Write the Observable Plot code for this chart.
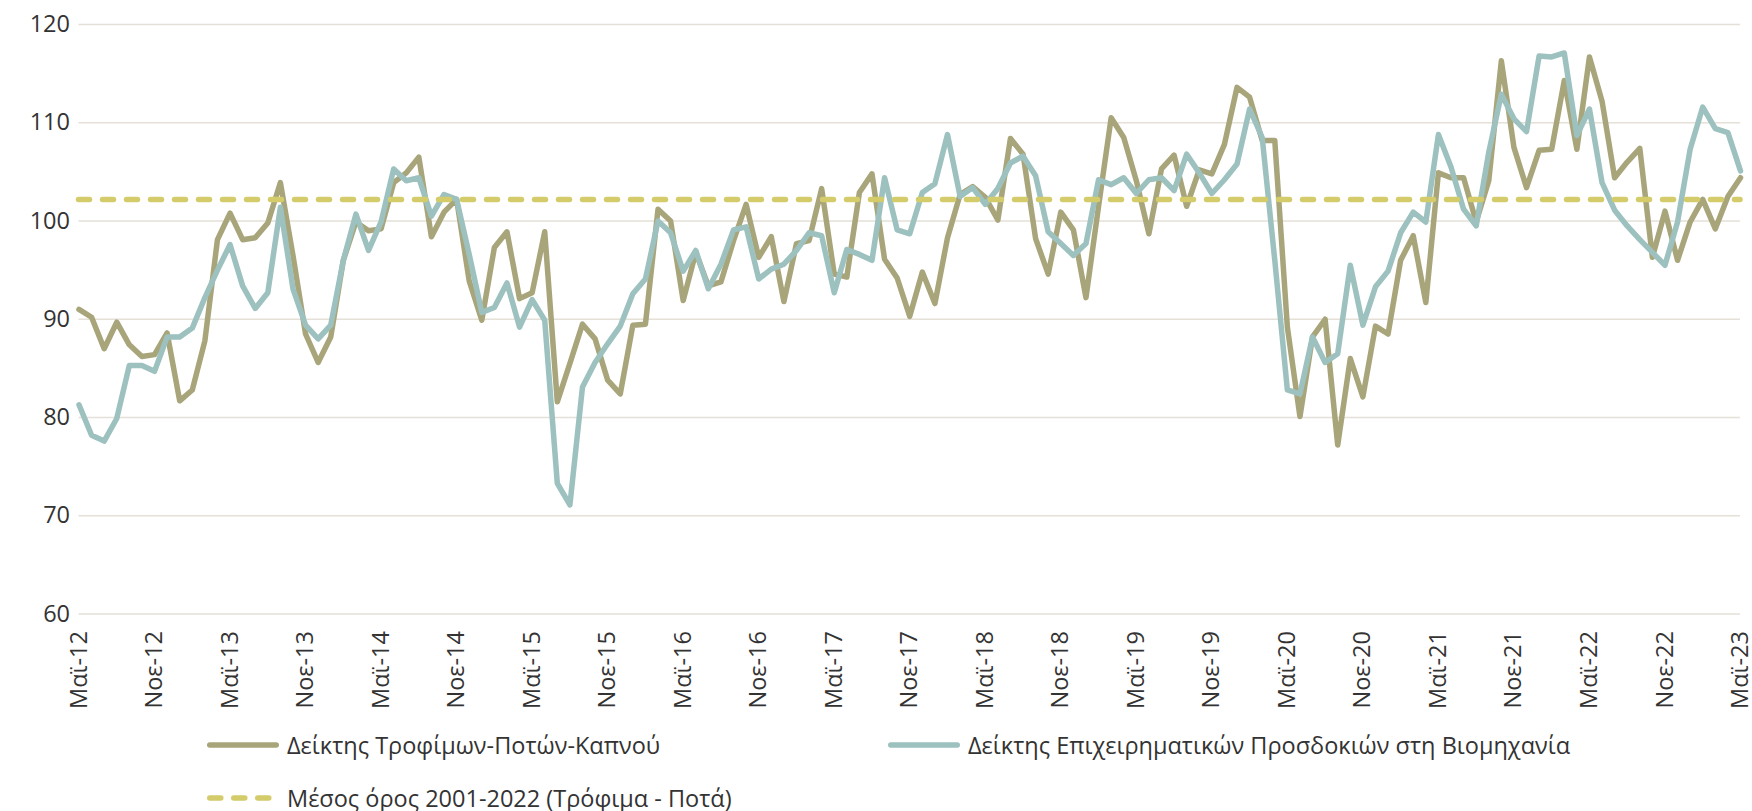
<!DOCTYPE html>
<html><head><meta charset="utf-8">
<script src="https://cdn.jsdelivr.net/npm/d3@7"></script>
<script src="https://cdn.jsdelivr.net/npm/@observablehq/plot@0.6"></script>
<style>
body{margin:0;background:#fff;font-family:"Open Sans",sans-serif;}
#chart{position:relative;width:1752px;height:811px;}
.leg{position:absolute;display:flex;align-items:center;font-size:23.5px;line-height:24px;height:24px;color:#333;white-space:nowrap;}
.leg svg{margin-right:8px;}
</style></head><body><div id="chart"></div>
<script>
// Categories: monthly, May 2012 – May 2023
const monthNames = ["Ιαν","Φεβ","Μαρ","Απρ","Μαϊ","Ιουν","Ιουλ","Αυγ","Σεπ","Οκτ","Νοε","Δεκ"];
const tickLabels = ["Μαϊ-12","Νοε-12","Μαϊ-13","Νοε-13","Μαϊ-14","Νοε-14","Μαϊ-15","Νοε-15","Μαϊ-16","Νοε-16","Μαϊ-17","Νοε-17","Μαϊ-18","Νοε-18","Μαϊ-19","Νοε-19","Μαϊ-20","Νοε-20","Μαϊ-21","Νοε-21","Μαϊ-22","Νοε-22","Μαϊ-23"];
const yTicks = [60,70,80,90,100,110,120];

// Δείκτης Τροφίμων-Ποτών-Καπνού
const food = [
 91.0,90.2,87.0,89.7,87.4,86.2,86.4,88.6,81.7,82.8,87.8,98.1,
 100.8,98.1,98.3,99.8,103.9,96.5,88.5,85.6,88.2,96.0,99.9,99.0,
 99.2,103.9,104.9,106.5,98.4,100.9,102.2,93.9,89.9,97.3,98.9,92.1,
 92.7,98.9,81.6,85.5,89.5,88.0,83.8,82.4,89.4,89.5,101.2,100.0,
 91.9,96.8,93.4,93.8,98.0,101.7,96.3,98.4,91.8,97.7,98.0,103.3,
 94.6,94.3,102.9,104.8,96.1,94.2,90.3,94.8,91.6,98.3,102.7,103.5,
 102.4,100.1,108.4,106.8,98.2,94.6,100.9,99.1,92.2,101.5,110.5,108.5,
 104.1,98.7,105.3,106.7,101.5,105.2,104.8,107.8,113.6,112.6,108.2,108.2,
 89.2,80.1,88.2,90.0,77.2,86.0,82.1,89.3,88.5,96.0,98.5,91.7,
 104.9,104.4,104.4,99.9,104.1,116.3,107.5,103.4,107.2,107.3,114.3,107.3,
 116.7,112.2,104.4,106.0,107.4,96.3,101.0,96.0,99.9,102.2,99.2,102.5,
 104.4
];

// Δείκτης Επιχειρηματικών Προσδοκιών στη Βιομηχανία
const business = [
 81.3,78.2,77.6,79.9,85.3,85.3,84.7,88.2,88.2,89.1,92.2,95.0,
 97.6,93.4,91.1,92.7,101.4,93.1,89.4,88.0,89.4,96.0,100.7,97.0,
 99.9,105.3,104.1,104.4,100.5,102.7,102.2,96.6,90.7,91.2,93.7,89.2,
 92.0,89.9,73.3,71.1,83.1,85.6,87.5,89.3,92.6,94.1,100.0,98.8,
 94.9,97.0,93.1,95.6,99.1,99.4,94.1,95.1,95.6,97.0,98.8,98.5,
 92.7,97.1,96.6,96.0,104.4,99.1,98.7,102.9,103.8,108.8,102.5,103.4,
 101.7,103.3,105.9,106.6,104.6,98.9,97.7,96.5,97.7,104.2,103.7,104.4,
 102.8,104.2,104.4,103.1,106.8,104.9,102.8,104.2,105.8,111.4,108.5,96.0,
 82.8,82.4,88.2,85.6,86.5,95.5,89.4,93.3,94.9,98.8,100.9,99.9,
 108.8,105.5,101.2,99.5,107.0,112.9,110.4,109.1,116.8,116.7,117.1,108.7,
 111.4,103.9,101.1,99.5,98.1,96.8,95.5,99.9,107.3,111.6,109.4,109.0,
 105.1
];

// Μέσος όρος 2001-2022 (Τρόφιμα - Ποτά)
const average = 102.2;

const seriesNames = ["Δείκτης Τροφίμων-Ποτών-Καπνού","Δείκτης Επιχειρηματικών Προσδοκιών στη Βιομηχανία","Μέσος όρος 2001-2022 (Τρόφιμα - Ποτά)"];
const colors = ["#A8A57B","#9CC1BF","#D4CC6A"];

const months = food.map((_, i) => monthNames[(4 + i) % 12] + "-" + String(12 + Math.floor((4 + i) / 12)));
const foodRows = food.map((v, i) => ({month: months[i], value: v}));
const bizRows = business.map((v, i) => ({month: months[i], value: v}));

const plot = Plot.plot({
  width: 1752, height: 720,
  marginLeft: 78.5, marginRight: 12, marginTop: 24, marginBottom: 106.5,
  style: {fontFamily: "Open Sans", fontSize: "23.5px", color: "#333", background: "white", overflow: "visible"},
  x: {type: "point", domain: months, padding: 0},
  y: {domain: [60, 120]},
  marks: [
    Plot.gridY(yTicks, {stroke: "#E5E0D8", strokeOpacity: 1, strokeWidth: 1.6}),
    Plot.axisY(yTicks, {tickSize: 0, tickPadding: 9, label: null}),
    Plot.axisX(tickLabels, {tickSize: 0, tickRotate: -90, tickPadding: 17, label: null}),
    Plot.line(foodRows, {x: "month", y: "value", stroke: colors[0], strokeWidth: 5.5, strokeLinejoin: "round"}),
    Plot.line(bizRows, {x: "month", y: "value", stroke: colors[1], strokeWidth: 5.5, strokeLinejoin: "round"}),
    Plot.ruleY([average], {stroke: colors[2], strokeWidth: 5.5, strokeDasharray: "11,13", strokeLinecap: "round"})
  ]
});
const chart = document.getElementById("chart");
chart.appendChild(plot);

function legendItem(i, left, top, dashed) {
  const d = document.createElement("div");
  d.className = "leg";
  d.style.left = left + "px";
  d.style.top = top + "px";
  const dash = dashed ? ' stroke-dasharray="11,13"' : '';
  d.innerHTML = `<svg width="72" height="10"><line x1="2.75" x2="69.25" y1="5" y2="5" stroke="${colors[i]}" stroke-width="5.5" stroke-linecap="round"${dash}/></svg><span>${seriesNames[i]}</span>`;
  chart.appendChild(d);
}
legendItem(0, 207, 733, false);
legendItem(1, 888, 733, false);
legendItem(2, 207, 786, true);
</script></body></html>
